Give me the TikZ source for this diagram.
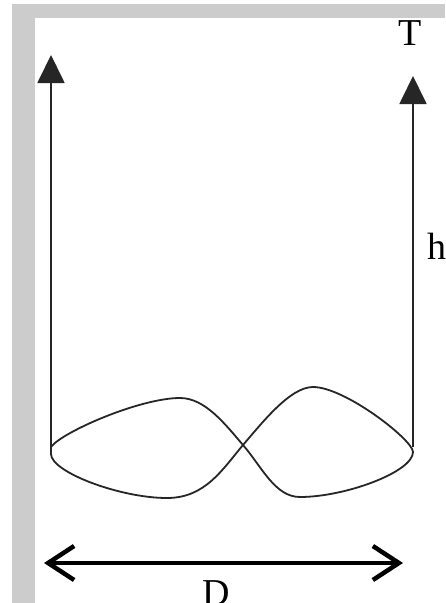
\documentclass[tikz,border=0pt]{standalone}
\usepackage{fontspec}
\setmainfont{Liberation Serif}
\usetikzlibrary{arrows.meta}
\definecolor{frame}{HTML}{CCCCCC}
\tikzset{
  wire/.style={line width=1.8pt, draw=black!85},
  uparrow/.style={wire, -{Triangle[length=28pt,width=27pt]}},
  dimarrow/.style={line width=3.5pt, {Straight Barb[length=26pt,width=34pt,line width=4.5pt]}-{Straight Barb[length=26pt,width=34pt,line width=4.5pt]}},
  lbl/.style={font=\fontsize{38}{40}\selectfont, inner sep=0pt}
}
\begin{document}
\begin{tikzpicture}[x=1pt,y=-1pt]
\useasboundingbox (0,0) rectangle (445,603);
\clip (0,0) rectangle (445,603);
\fill[white] (0,0) rectangle (445,603);
% grey frame
\fill[frame] (12,4) rectangle (445,18);
\fill[frame] (12,4) rectangle (35,603);
% coordinates
\coordinate (A) at (51,447);
\coordinate (B) at (413,447);
\coordinate (Atop) at (51,55);
\coordinate (Btop) at (413,76);
\coordinate (DL) at (44,563);
\coordinate (DR) at (403,563);
% vertical strings
\draw[uparrow] (A) -- (Atop);
\draw[uparrow] (B) -- (Btop);
% figure-eight loop
\draw[wire, line join=round]
  (A) .. controls (62,432) and (140,398) .. (180,398)
      .. controls (205,398) and (225,424) .. (243,445)
      .. controls (262,467) and (275,497) .. (300,497)
      .. controls (345,497) and (413,472) .. (413,452)
      .. controls (413,440) and (345,387) .. (313,387)
      .. controls (290,387) and (262,423) .. (243,445)
      .. controls (222,470) and (205,498) .. (167,498)
      .. controls (120,498) and (51,472) .. (51,454)
      -- cycle;
% dimension arrow
\draw[dimarrow] (DL) -- (DR);
% labels
\node[lbl] (T) at (410,33) {T};
\node[lbl, anchor=base west] (h) at (427,259) {h};
\node[lbl, anchor=base] (D) at (216,605) {D};
\end{tikzpicture}
\end{document}
